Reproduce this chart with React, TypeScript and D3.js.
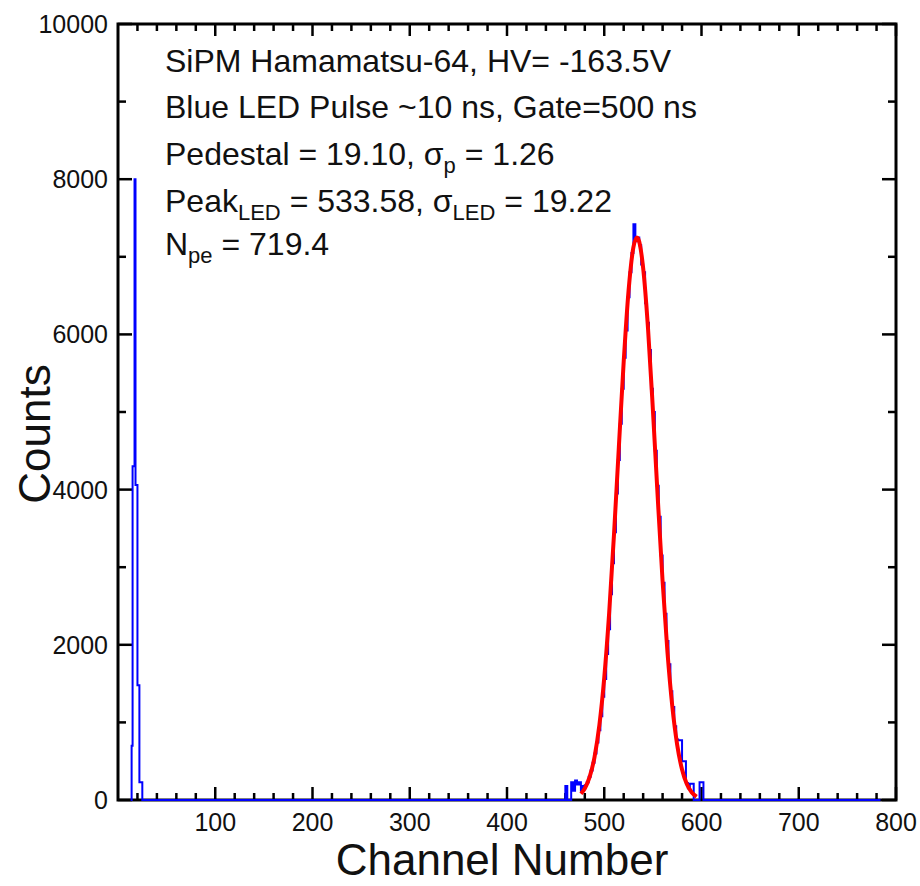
import React from "react";
import * as d3 from "d3";

// ---- data ----
// pedestal histogram (1-channel bins)
const pedChannels = [13, 14, 15, 16, 17, 18, 19, 20, 21, 22, 23, 24, 25];
const pedCounts = [0, 700, 4300, 4300, 8000, 4060, 4060, 1480, 1480, 230, 230, 230, 0];

// LED peak histogram (2-channel bins)
const ledChannels = [
  458, 460, 462, 464, 466, 468, 470, 472, 474, 476, 478, 480, 482, 484, 486, 488,
  490, 492, 494, 496, 498, 500, 502, 504, 506, 508, 510, 512, 514, 516, 518, 520,
  522, 524, 526, 528, 530, 532, 534, 536, 538, 540, 542, 544, 546, 548, 550, 552,
  554, 556, 558, 560, 562, 564, 566, 568, 570, 572, 574, 576, 578, 580, 582, 584,
  586, 588, 590, 592, 594, 596, 598, 600, 602,
];
const ledCounts = [
  0, 180, 0, 0, 230, 120, 250, 200, 230, 120, 180, 190, 230, 300, 380, 480,
  600, 740, 900, 1080, 1330, 1560, 1880, 2200, 2650, 3050, 3450, 3950, 4380, 4850, 5300, 5700,
  6050, 6480, 6800, 7050, 7420, 7200, 7250, 7150, 6900, 6800, 6400, 6150, 5800, 5300, 5000, 4500,
  4050, 3650, 3150, 2800, 2400, 2050, 1750, 1400, 1200, 950, 780, 770, 770, 500, 500, 220,
  150, 210, 210, 0, 0, 0, 230, 230, 0,
];
const histEnd = 784;

// Gaussian fit curve (red)
const fitX = [476, 480, 485, 490, 495, 500, 505, 510, 515, 520, 525, 530, 533.6, 535, 540, 545, 550, 555, 560, 565, 570, 575, 580, 585, 590, 595];
const fitY = [81, 149, 297, 554, 967, 1576, 2400, 3416, 4544, 5648, 6563, 7125, 7250, 7230, 6856, 6077, 5034, 3896, 2819, 1905, 1204, 711, 392, 202, 98, 44];

const xTickLabels = ["100", "200", "300", "400", "500", "600", "700", "800"];
const yTickLabels = ["0", "2000", "4000", "6000", "8000", "10000"];

const FONT = "'Liberation Sans', Arial, Helvetica, sans-serif";

export default function App() {
  const W = 920, H = 886;
  const L = 118, R = 896, T = 24, B = 800;
  const x = d3.scaleLinear().domain([0, 800]).range([L, R]);
  const y = d3.scaleLinear().domain([0, 10000]).range([B, T]);

  const histPts: [number, number][] = [];
  pedChannels.forEach((c, i) => histPts.push([c, pedCounts[i]]));
  ledChannels.forEach((c, i) => histPts.push([c, ledCounts[i]]));
  histPts.push([histEnd, 0]);
  const histLine = d3.line<[number, number]>()
    .x((d) => x(d[0]))
    .y((d) => y(d[1]))
    .curve(d3.curveStepAfter);

  const fitLine = d3.line<number>()
    .x((_, i) => x(fitX[i]))
    .y((d) => y(d))
    .curve(d3.curveMonotoneX);

  const xMinor = d3.range(20, 800, 20).filter((v) => v % 100 !== 0);
  const xMajor = xTickLabels.map(Number);
  const yMajor = yTickLabels.map(Number);
  const yMinor = d3.range(1000, 10000, 2000);

  const tickStyle = { stroke: "#000", strokeWidth: 2.5 };
  const SUB = 22, DY = 8;

  return (
    <svg width={W} height={H} style={{ position: "absolute", left: 0, top: 0, background: "#fff" }}
      fontFamily={FONT}>
      <rect x={0} y={0} width={W} height={H} fill="#fff" />

      {/* ticks */}
      {xMajor.map((v) => (
        <g key={"xM" + v}>
          <line x1={x(v)} x2={x(v)} y1={B} y2={B - 13} {...tickStyle} />
          <line x1={x(v)} x2={x(v)} y1={T} y2={T + 12} {...tickStyle} />
        </g>
      ))}
      {xMinor.map((v) => (
        <g key={"xm" + v}>
          <line x1={x(v)} x2={x(v)} y1={B} y2={B - 7} {...tickStyle} />
          <line x1={x(v)} x2={x(v)} y1={T} y2={T + 7} {...tickStyle} />
        </g>
      ))}
      {yMajor.map((v) => (
        <g key={"yM" + v}>
          <line x1={L} x2={L + 14} y1={y(v)} y2={y(v)} {...tickStyle} />
          <line x1={R} x2={R - 14} y1={y(v)} y2={y(v)} {...tickStyle} />
        </g>
      ))}
      {yMinor.map((v) => (
        <g key={"ym" + v}>
          <line x1={L} x2={L + 8} y1={y(v)} y2={y(v)} {...tickStyle} />
          <line x1={R} x2={R - 8} y1={y(v)} y2={y(v)} {...tickStyle} />
        </g>
      ))}

      {/* frame */}
      <rect x={L} y={T} width={R - L} height={B - T} fill="none" stroke="#000" strokeWidth={3} />

      {/* histogram */}
      <path d={histLine(histPts) || ""} fill="none" stroke="#0000ff" strokeWidth={2} />
      {/* fit */}
      <path d={fitLine(fitY) || ""} fill="none" stroke="#ff0000" strokeWidth={4} strokeLinejoin="round" />

      {/* tick labels */}
      {xTickLabels.map((t) => (
        <text key={"xl" + t} x={x(Number(t))} y={831} fontSize={25} textAnchor="middle" fill="#111">{t}</text>
      ))}
      {yTickLabels.map((t) => (
        <text key={"yl" + t} x={108} y={y(Number(t)) + 9} fontSize={25} textAnchor="end" fill="#111">{t}</text>
      ))}

      {/* axis titles */}
      <text x={502} y={875} fontSize={44} textAnchor="middle" fill="#111">Channel Number</text>
      <text transform={`translate(50,434) rotate(-90)`} fontSize={44} textAnchor="middle" fill="#111">Counts</text>

      {/* annotations */}
      <g fontSize={32} fill="#111">
        <text x={165} y={72}>SiPM Hamamatsu-64, HV= -163.5V</text>
        <text x={165} y={118}>Blue LED Pulse ~10 ns, Gate=500 ns</text>
        <text x={165} y={165}>
          Pedestal = 19.10, σ<tspan fontSize={SUB} dy={DY}>p</tspan><tspan dy={-DY}> = 1.26</tspan>
        </text>
        <text x={165} y={212}>
          Peak<tspan fontSize={SUB} dy={DY}>LED</tspan><tspan dy={-DY}> = 533.58, σ</tspan>
          <tspan fontSize={SUB} dy={DY}>LED</tspan><tspan dy={-DY}> = 19.22</tspan>
        </text>
        <text x={165} y={255}>
          N<tspan fontSize={SUB} dy={DY}>pe</tspan><tspan dy={-DY}> = 719.4</tspan>
        </text>
      </g>
    </svg>
  );
}
